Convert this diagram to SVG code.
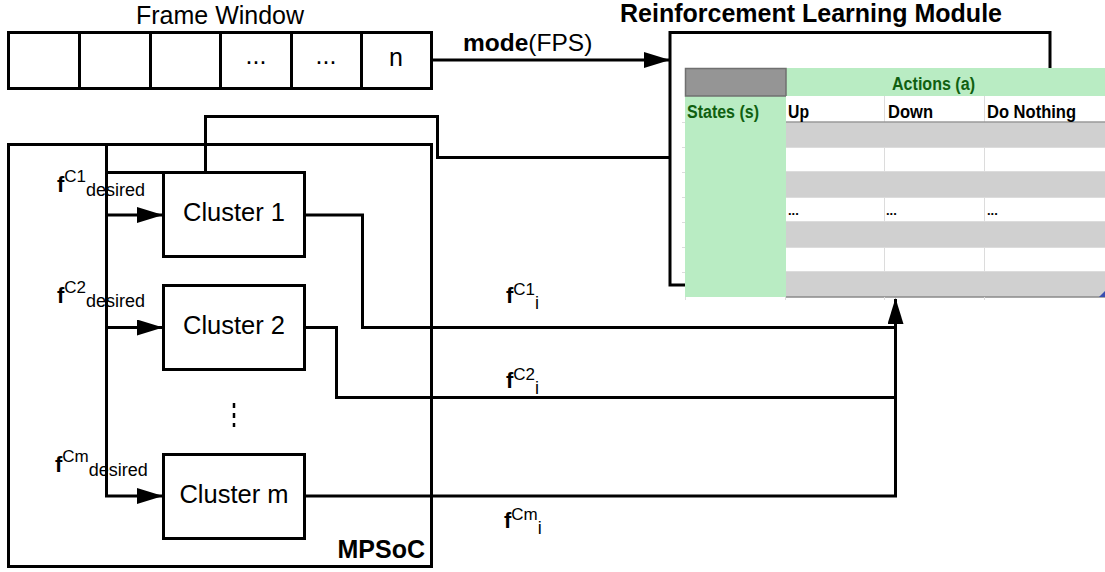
<svg xmlns="http://www.w3.org/2000/svg" width="1105" height="572" viewBox="0 0 1105 572">
  <defs>
    <style>
      .box { fill: #ffffff; stroke: #000000; stroke-width: 3; }
      .wire { fill: none; stroke: #000000; stroke-width: 3; }
      .lbl { font-family: "Liberation Sans", Arial, sans-serif; fill: #000000; }
      .big { font-size: 25px; }
      .bold { font-weight: bold; }
      .fb { font-weight: bold; font-size: 22px; }
      .sup { font-size: 17px; }
      .sub { font-size: 18px; }
      .tb { font-family: "Liberation Sans", Arial, sans-serif; font-weight: bold; font-size: 17.5px; }
      .green { fill: #106010; }
      .grid { stroke: #dcdcdc; stroke-width: 1; }
    </style>
    <marker id="arrow" markerUnits="userSpaceOnUse" markerWidth="26" markerHeight="18" refX="25" refY="8" orient="auto">
      <path d="M0,0 L26,8 L0,16 z" fill="#000000"/>
    </marker>
  </defs>
  <rect width="1105" height="572" fill="#ffffff"/>

  <!-- Frame window -->
  <g id="frame-window">
    <text class="lbl big" x="220" y="24" text-anchor="middle">Frame Window</text>
    <rect class="box" x="8.5" y="32.5" width="423" height="56"/>
    <path class="wire" d="M79.5,32.5 V88.5 M150.5,32.5 V88.5 M220.5,32.5 V88.5 M291.5,32.5 V88.5 M361.5,32.5 V88.5"/>
    <text class="lbl big" x="256" y="64" text-anchor="middle">...</text>
    <text class="lbl big" x="326" y="64" text-anchor="middle">...</text>
    <text class="lbl big" x="396" y="66" text-anchor="middle">n</text>
  </g>

  <!-- MPSoC container -->
  <g id="mpsoc">
    <rect class="box" x="8.5" y="144.5" width="423" height="422"/>
    <text class="lbl bold" x="425" y="558" font-size="25" text-anchor="end">MPSoC</text>
  </g>

  <!-- Reinforcement learning module -->
  <g id="rl-module">
    <text class="lbl big bold" x="811" y="22" text-anchor="middle">Reinforcement Learning Module</text>
    <rect class="box" x="670" y="32.5" width="380" height="252.5"/>
    <!-- Q-table -->
    <g id="q-table">
      <rect x="685" y="96" width="101" height="201" fill="#b9ecc3"/>
      <rect x="786" y="68" width="319" height="28" fill="#b9ecc3"/>
      <rect x="685.5" y="68.5" width="100.5" height="27.5" fill="#959595" stroke="#707070" stroke-width="1.5"/>
      <rect x="786" y="96" width="319" height="26" fill="#ffffff"/>
      <rect x="786" y="122" width="319" height="25" fill="#d0d0d0"/>
      <rect x="786" y="147" width="319" height="25" fill="#ffffff"/>
      <rect x="786" y="172" width="319" height="25" fill="#d0d0d0"/>
      <rect x="786" y="197" width="319" height="25" fill="#ffffff"/>
      <rect x="786" y="222" width="319" height="25" fill="#d0d0d0"/>
      <rect x="786" y="247" width="319" height="25" fill="#ffffff"/>
      <rect x="786" y="272" width="319" height="25" fill="#d0d0d0"/>
      <path class="grid" d="M884.5,96 V122 M984.5,96 V122 M884.5,147 V172 M984.5,147 V172 M884.5,197 V222 M984.5,197 V222 M884.5,247 V272 M984.5,247 V272 M786,147.5 H1105 M786,171.5 H1105 M786,197.5 H1105 M786,221.5 H1105 M786,247.5 H1105 M786,271.5 H1105"/>
      <path d="M786,122 H1105" stroke="#9a9a9a" stroke-width="1.5"/>
      <path d="M786,297 H1105" stroke="#8a8a8a" stroke-width="1.5"/>
      <path class="grid" d="M682,122.5 H685 M682,147.5 H685 M682,172.5 H685 M682,197.5 H685 M682,222.5 H685 M682,247.5 H685 M682,272.5 H685 M685.5,297 V300 M785.5,297 V300 M884.5,297 V300 M984.5,297 V300"/>
      <path d="M1099,297 L1105,291 L1105,297 z" fill="#3a4fb0"/>
      <text class="tb green" x="892" y="90" textLength="83" lengthAdjust="spacingAndGlyphs">Actions (a)</text>
      <text class="tb green" x="687" y="118" textLength="72" lengthAdjust="spacingAndGlyphs">States (s)</text>
      <text class="tb" x="788" y="118" textLength="21" lengthAdjust="spacingAndGlyphs">Up</text>
      <text class="tb" x="888" y="118" textLength="45" lengthAdjust="spacingAndGlyphs">Down</text>
      <text class="tb" x="987" y="118" textLength="89" lengthAdjust="spacingAndGlyphs">Do Nothing</text>
      <text class="lbl bold" x="788" y="215" font-size="13">...</text>
      <text class="lbl bold" x="886" y="215" font-size="13">...</text>
      <text class="lbl bold" x="987" y="215" font-size="13">...</text>
    </g>
  </g>

  <!-- Clusters -->
  <g id="cluster-1">
    <rect class="box" x="163.5" y="172.5" width="141" height="84"/>
    <text class="lbl" x="234" y="221" font-size="25.5" text-anchor="middle">Cluster 1</text>
  </g>
  <g id="cluster-2">
    <rect class="box" x="163.5" y="285.5" width="141" height="84"/>
    <text class="lbl" x="234" y="334" font-size="25.5" text-anchor="middle">Cluster 2</text>
  </g>
  <g id="cluster-m">
    <rect class="box" x="163.5" y="454.5" width="141" height="84"/>
    <text class="lbl" x="234" y="503" font-size="25.5" text-anchor="middle">Cluster m</text>
  </g>
  <g id="ellipsis">
    <path d="M234,403 V408 M234,413 V418 M234,423 V427" stroke="#000000" stroke-width="2.5"/>
  </g>

  <!-- Connectors -->
  <g id="connectors">
    <path class="wire" d="M432,60 H669" marker-end="url(#arrow)"/>
    <path class="wire" d="M670,157.5 H437.5 V116.5 H205.5 V172.5 H106.5"/>
    <path class="wire" d="M106.5,144 V496 H162" marker-end="url(#arrow)"/>
    <path class="wire" d="M106.5,215 H162" marker-end="url(#arrow)"/>
    <path class="wire" d="M106.5,327.5 H162" marker-end="url(#arrow)"/>
    <path class="wire" d="M305,215 H362.5 V327.5 H895.5"/>
    <path class="wire" d="M305,327.5 H336.5 V397.5 H895.5"/>
    <path class="wire" d="M305,496 H895.5 V299" marker-end="url(#arrow)"/>
  </g>

  <!-- Connector labels -->
  <g id="labels">
    <text class="lbl" x="463" y="51" font-size="24.5"><tspan font-weight="bold">mode</tspan>(FPS)</text>
    <text class="lbl" x="57" y="192"><tspan class="fb">f</tspan><tspan class="sup" dy="-10">C1</tspan><tspan class="sub" dy="14">desired</tspan></text>
    <text class="lbl" x="57" y="303"><tspan class="fb">f</tspan><tspan class="sup" dy="-10">C2</tspan><tspan class="sub" dy="14">desired</tspan></text>
    <text class="lbl" x="55" y="472"><tspan class="fb">f</tspan><tspan class="sup" dy="-10">Cm</tspan><tspan class="sub" dy="14">desired</tspan></text>
    <text class="lbl" x="506" y="303"><tspan class="fb">f</tspan><tspan class="sup" dy="-8">C1</tspan><tspan class="sub" dy="14">i</tspan></text>
    <text class="lbl" x="506" y="388"><tspan class="fb">f</tspan><tspan class="sup" dy="-8">C2</tspan><tspan class="sub" dy="14">i</tspan></text>
    <text class="lbl" x="504" y="528"><tspan class="fb">f</tspan><tspan class="sup" dy="-8">Cm</tspan><tspan class="sub" dy="14">i</tspan></text>
  </g>
</svg>
